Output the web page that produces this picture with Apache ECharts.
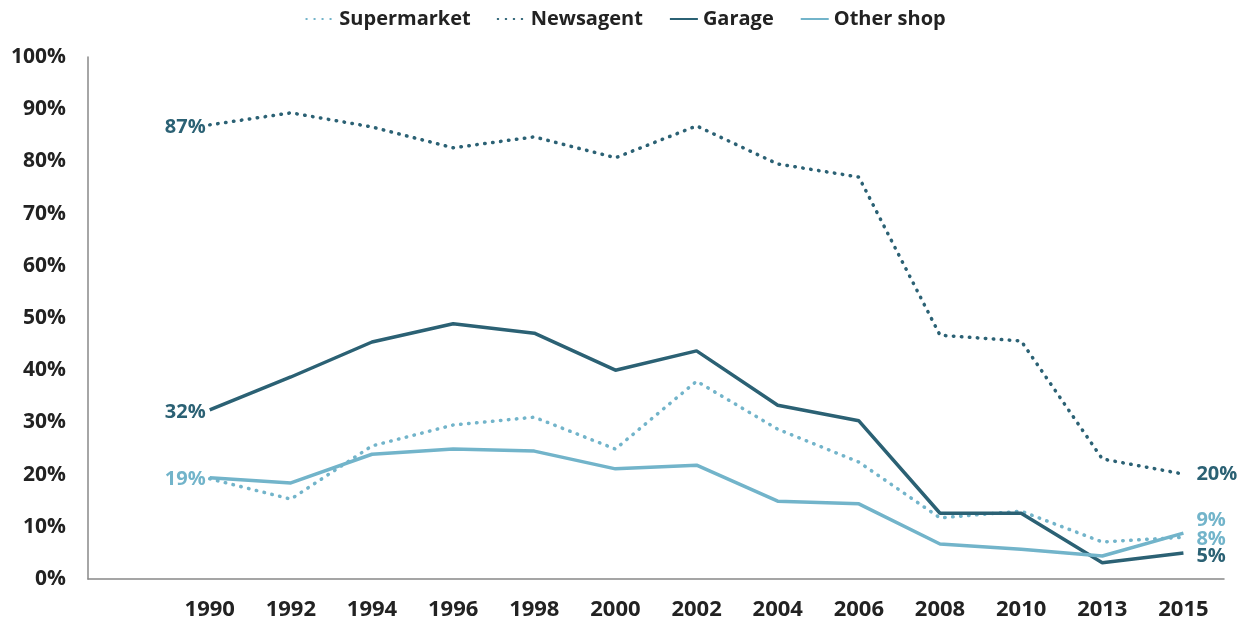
<!DOCTYPE html>
<html>
<head>
<meta charset="utf-8">
<script src="https://cdn.jsdelivr.net/npm/echarts@6/dist/echarts.min.js"></script>
<style>
html, body { margin: 0; padding: 0; background: #fff; }
#chart { width: 1251px; height: 628px; }
</style>
</head>
<body>
<div id="chart"></div>
<script>
// first slot is left empty, as in the original
var years = ['', '1990', '1992', '1994', '1996', '1998', '2000', '2002', '2004', '2006', '2008', '2010', '2013', '2015'];

var supermarket = [19.2, 15.3, 25.5, 29.5, 31.0, 24.9, 37.9, 28.7, 22.4, 11.7, 13.0, 7.1, 8.0];
var newsagent   = [87.0, 89.3, 86.6, 82.6, 84.7, 80.7, 86.8, 79.5, 77.0, 46.7, 45.6, 23.0, 20.1];
var garage      = [32.4, 38.7, 45.4, 48.9, 47.1, 40.0, 43.7, 33.3, 30.3, 12.6, 12.6, 3.1, 5.0];
var otherShop   = [19.4, 18.4, 23.9, 24.9, 24.5, 21.1, 21.8, 14.9, 14.4, 6.7, 5.7, 4.4, 8.8];

var yTicks = [0, 10, 20, 30, 40, 50, 60, 70, 80, 90, 100];

var dark = '#2b6174';
var light = '#72b4ca';
var font = 'Open Sans';

// end labels only on first / last point
function build(vals, color, showFirst, showLast) {
    var out = [null];
    for (var i = 0; i < vals.length; i++) {
        var item = { value: vals[i] };
        var isFirst = i === 0, isLast = i === vals.length - 1;
        if ((isFirst && showFirst) || (isLast && showLast)) {
            item.label = {
                show: true,
                position: isFirst ? 'left' : 'right',
                distance: isFirst ? 4 : 13,
                offset: isFirst ? [0, 2] : [0, 0],
                formatter: Math.round(vals[i]) + '%',
                color: color,
                opacity: 1,
                fontSize: 20,
                fontWeight: 'bold',
                fontFamily: font
            };
        }
        out.push(item);
    }
    return out;
}

function lineSeries(name, vals, color, dotted, showFirst, showLast, labelOffset) {
    var s = {
        name: name,
        type: 'line',
        symbol: 'circle',
        symbolSize: 0,
        showSymbol: true,
        data: build(vals, color, showFirst, showLast),
        lineStyle: { color: color, width: 3.5 },
        itemStyle: { color: color },
        label: { show: false },
        z: dotted ? 2 : 3
    };
    if (dotted) {
        s.lineStyle.type = [0.5, 7.5];
        s.lineStyle.cap = 'round';
    }
    if (labelOffset) {
        s.data[s.data.length - 1].label.offset = labelOffset;
    }
    return s;
}

var myChart = echarts.init(document.getElementById('chart'));

var option = {
    animation: false,
    legend: {
        top: 4,
        left: 'center',
        itemWidth: 28,
        itemHeight: 10,
        itemGap: 26,
        itemStyle: { opacity: 0 },
        textStyle: { fontSize: 20, fontWeight: 'bold', color: '#222', fontFamily: font },
        data: ['Supermarket', 'Newsagent', 'Garage', 'Other shop']
    },
    grid: { left: 88, right: 27, top: 57, bottom: 49 },
    xAxis: {
        type: 'category',
        data: years,
        boundaryGap: true,
        axisLine: { lineStyle: { color: '#888', width: 1.5 } },
        axisTick: { show: false },
        axisLabel: { margin: 20, fontSize: 22, fontWeight: 'bold', color: '#222', fontFamily: font }
    },
    yAxis: {
        type: 'value',
        min: yTicks[0],
        max: yTicks[yTicks.length - 1],
        interval: 10,
        axisLine: { show: true, lineStyle: { color: '#888', width: 1.5 } },
        axisTick: { show: false },
        splitLine: { show: false },
        axisLabel: { margin: 22, fontSize: 21, fontWeight: 'bold', color: '#222', fontFamily: font, formatter: '{value}%' }
    },
    series: [
        lineSeries('Supermarket', supermarket, light, true, false, true, [0, 2]),
        lineSeries('Newsagent', newsagent, dark, true, true, true),
        lineSeries('Garage', garage, dark, false, true, true, [0, 3]),
        lineSeries('Other shop', otherShop, light, false, true, true, [0, -13])
    ]
};

myChart.setOption(option);
</script>
</body>
</html>
